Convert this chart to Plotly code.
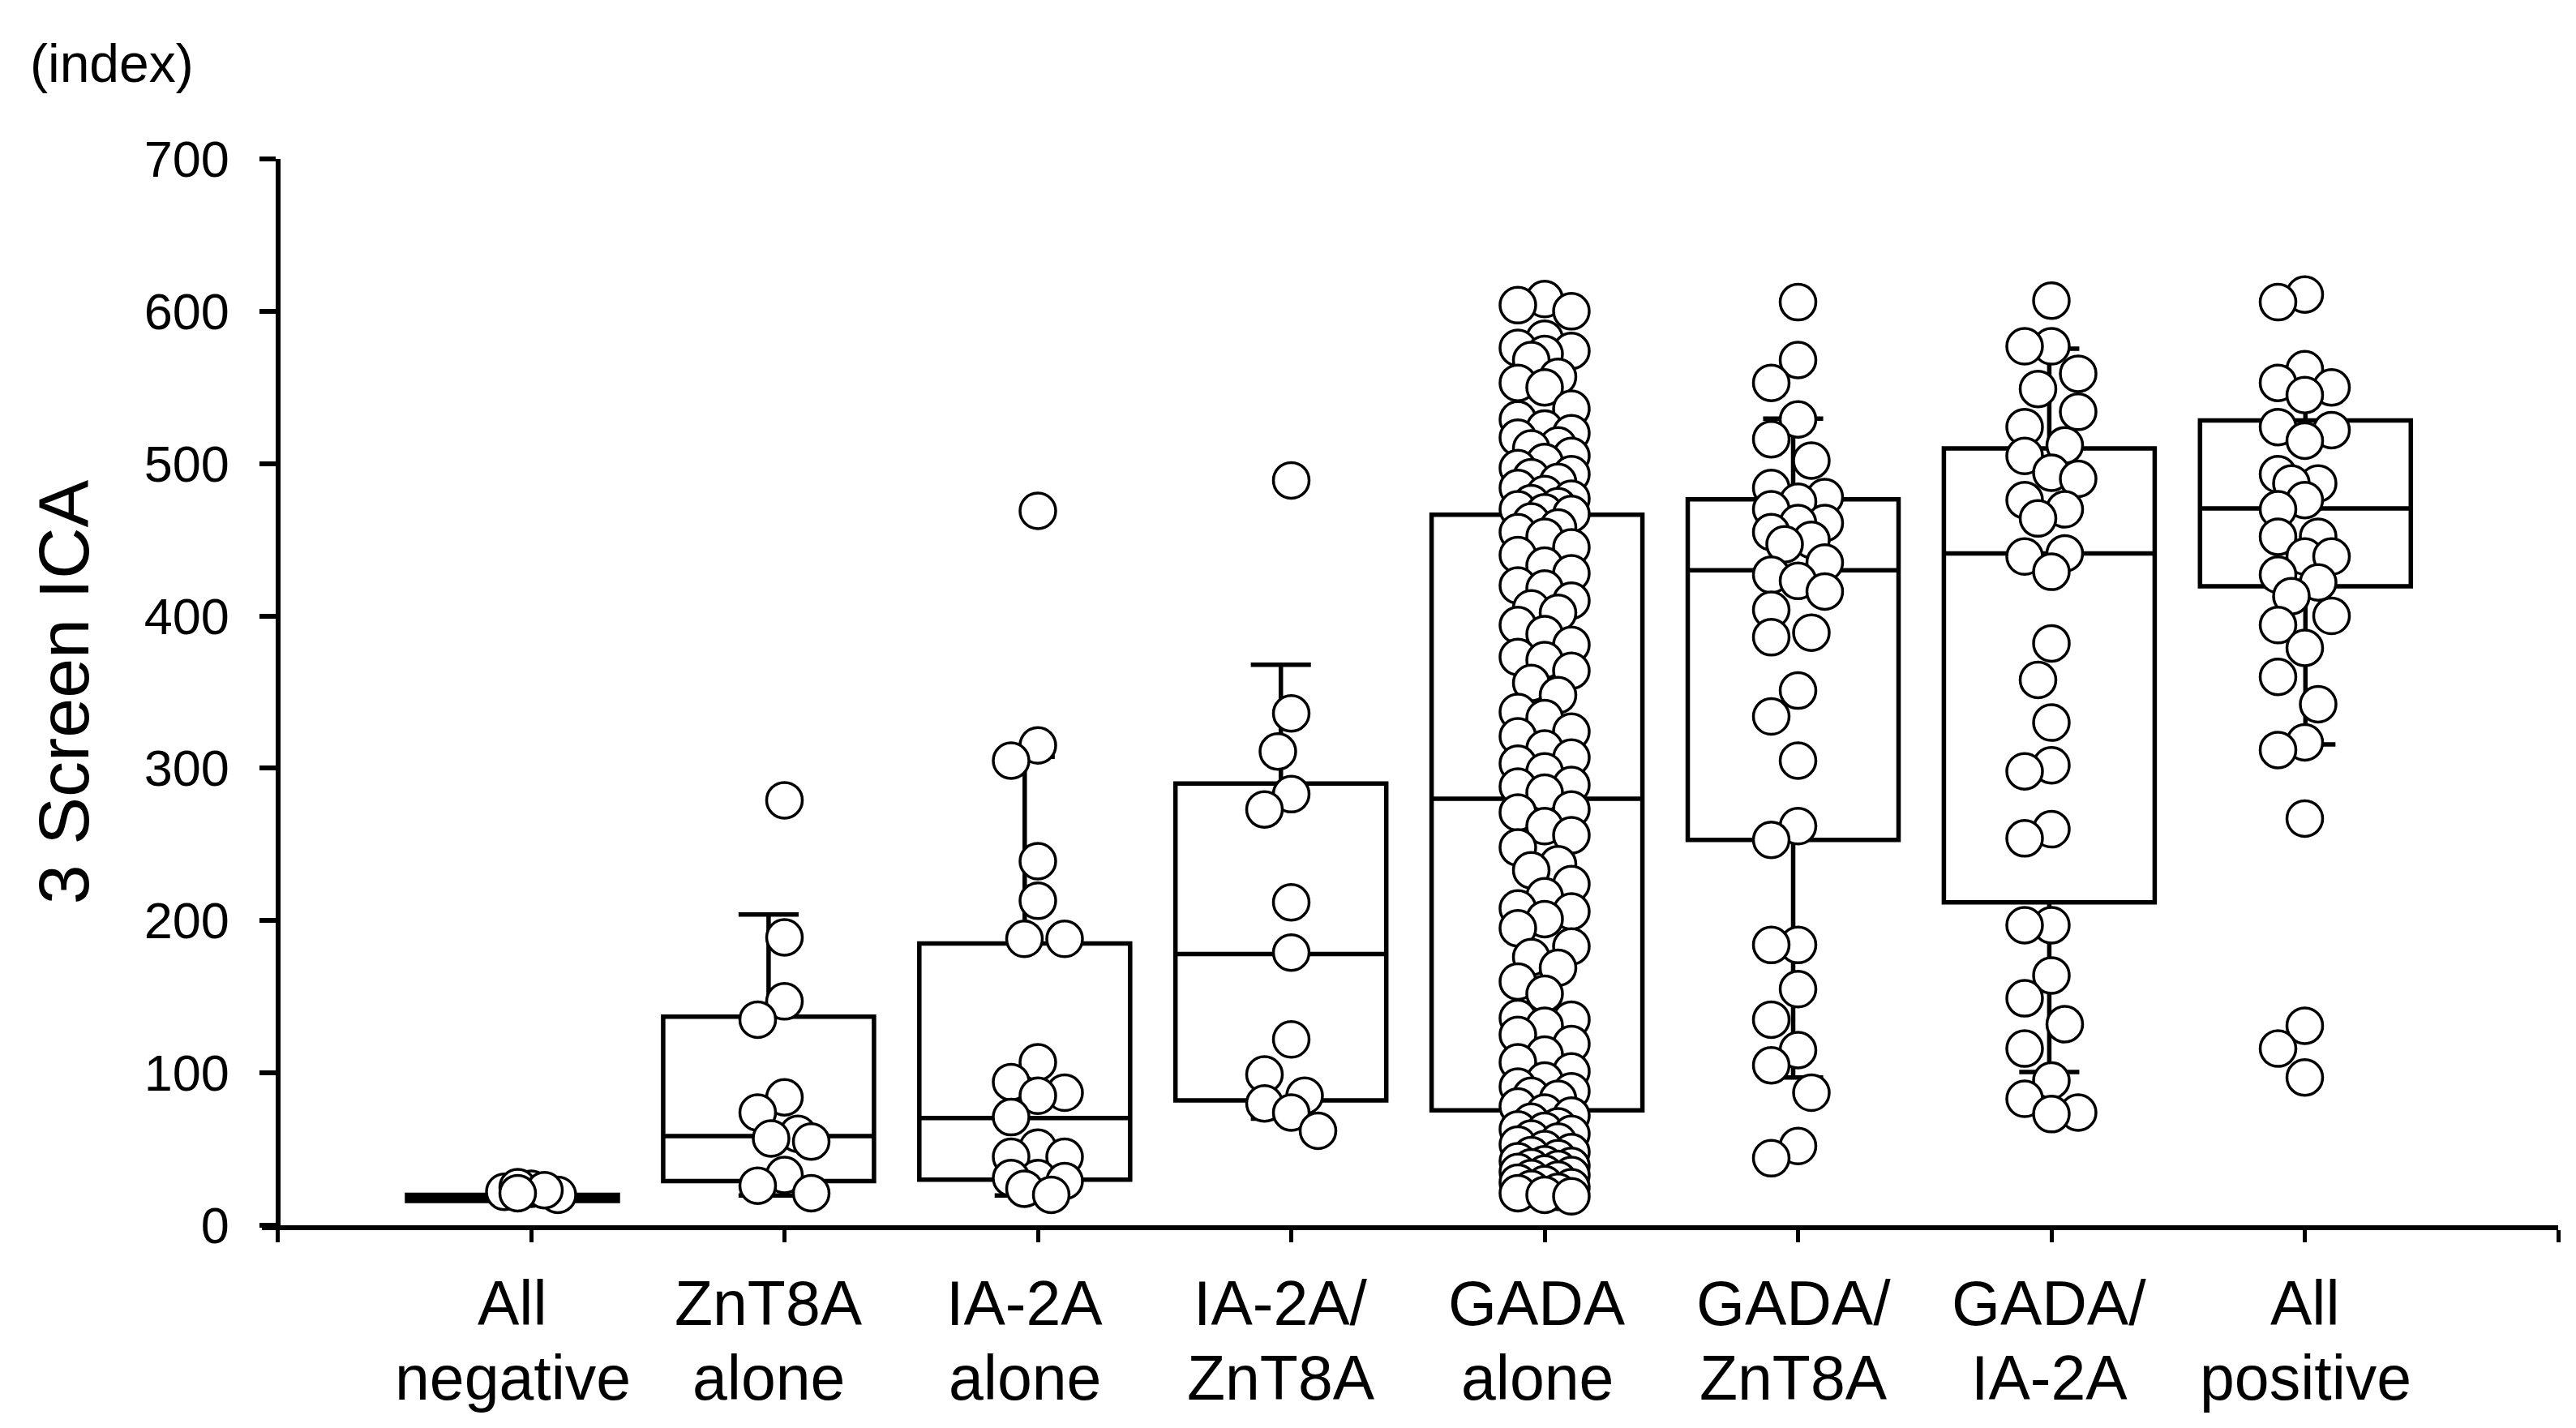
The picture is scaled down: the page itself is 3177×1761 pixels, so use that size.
import math
import plotly.graph_objects as go

# ---------------- data ----------------
label_line1 = ["All", "ZnT8A", "IA-2A", "IA-2A/", "GADA", "GADA/", "GADA/", "All"]
label_line2 = ["negative", "alone", "alone", "ZnT8A", "alone", "ZnT8A", "IA-2A", "positive"]

all_negative = [24, 22, 20, 25, 23, 21]
znt8a_alone = [279, 189, 147, 135, 84, 74, 60, 57, 55, 33, 26, 21]
ia2a_alone = [469, 315, 305, 239, 213, 188, 188, 107, 94, 87, 85, 71, 51, 45, 45,
              31, 31, 29, 24, 20]
ia2a_znt8a = [489, 336, 311, 283, 273, 212, 179, 122, 99, 85, 80, 74, 62]
gada_alone = [608, 604, 600, 582, 576, 574, 572, 568, 557, 553, 550, 536, 529,
              523, 520, 517, 512, 510, 505, 501, 497, 493, 491, 488, 484, 480, 477,
              474, 472, 470, 468, 467,
              462, 458, 455, 452, 445, 440, 433, 428, 420, 418, 410, 405, 402, 394,
              388, 381, 373, 371, 364, 356, 348, 337, 333, 324, 321, 313, 307, 303,
              298, 289, 288, 284,
              273, 271, 262, 256, 248, 237, 233, 224, 216, 208, 206, 201, 195, 183,
              176, 169, 160, 152, 136, 135, 131, 125, 119, 112, 107, 101, 95, 91,
              88, 85, 83, 78,
              74, 72, 68, 65, 63, 62, 60, 57, 55, 53, 50, 48, 46, 44, 42, 40, 39,
              38, 37,
              35, 34, 33, 31, 30, 28, 27, 25, 24, 22, 21, 20, 19]
gada_znt8a = [606, 568, 553, 529, 516, 502, 484, 478, 475, 470, 461, 461, 455, 450,
              447, 435, 427, 423, 416, 404, 389, 386, 351, 334, 305, 262, 253, 184,
              184, 155, 135, 115, 105, 87, 52, 44]
gada_ia2a = [607, 577, 577, 559, 549, 534, 524, 512, 505, 494, 490, 476, 470, 464,
             441, 439, 429, 382, 358, 330, 302, 298, 260, 254, 197, 197, 164, 149,
             132, 116, 95, 83, 74, 73]
all_positive = [611, 606, 562, 553, 550, 545, 524, 522, 515, 493, 487, 487, 476,
                470, 452, 452, 439, 439, 427, 422, 413, 400, 394, 379, 360, 342, 317,
                312, 267, 131, 116, 97]

groups = [all_negative, znt8a_alone, ia2a_alone, ia2a_znt8a,
          gada_alone, gada_znt8a, gada_ia2a, all_positive]

# box statistics (quartiles and whisker ends)
box_q1 = [16, 29, 30, 82, 75.5, 253, 212, 419.5]
box_median = [18, 58.5, 70.4, 178, 280, 430, 441, 470.6]
box_q3 = [20, 137, 185, 290, 466.5, 476.5, 510, 528.3]
box_low = [16, 19.5, 19.5, 70, 36, 97, 100.6, 315.7]
box_high = [20, 204, 307.6, 368, 525, 529.5, 575.5, 558.4]

y_ticks = [0, 100, 200, 300, 400, 500, 600, 700]

# ---------------- layout geometry ----------------
W, H = 3177, 1761
ML, MR, MT, MB = 315, 30, 188, 258
X_RANGE = [-0.0624, 9.0]
Y_RANGE = [0, 700]
plot_w = W - ML - MR
plot_h = H - MT - MB
px_per_x = plot_w / (X_RANGE[1] - X_RANGE[0])
px_per_y = plot_h / (Y_RANGE[1] - Y_RANGE[0])

FONT = "Liberation Sans, Arial, Helvetica, sans-serif"
MARKER_SIZE = 44
MARKER_LINE = 3.5
DIAM = MARKER_SIZE + MARKER_LINE

n = len(groups)
dot_pos = [i + 1 for i in range(n)]                       # dot clouds sit on the ticks
box_pos = [0.9264 + 1.01088 * i for i in range(n)]         # boxes/labels slightly shifted
COL_STEP = 0.0528
COL_ORDER = [0, -1, 1, -2, 2]


def swarm(values):
    """Place points in 5 jitter columns, avoiding overlap where possible."""
    placed = []
    offs = []
    for v in values:
        best, best_d = 0, -1.0
        for c in COL_ORDER:
            dx = c * COL_STEP * px_per_x
            dmin = min((math.hypot(dx - px, (v - pv) * px_per_y) for px, pv in placed),
                       default=1e9)
            if dmin >= DIAM:
                best = c
                break
            if dmin > best_d:
                best_d, best = dmin, c
        placed.append((best * COL_STEP * px_per_x, v))
        offs.append(best * COL_STEP)
    return offs


fig = go.Figure()

# dots first (boxes drawn on top of them)
for i, vals in enumerate(groups):
    offs = swarm(vals)
    fig.add_trace(go.Scatter(
        x=[dot_pos[i] + o for o in offs], y=vals, mode="markers",
        marker=dict(symbol="circle", size=MARKER_SIZE, color="white",
                    line=dict(color="black", width=MARKER_LINE)),
        showlegend=False, hoverinfo="y"))

for i in range(n):
    fig.add_trace(go.Box(
        x=[box_pos[i]], q1=[box_q1[i]], median=[box_median[i]], q3=[box_q3[i]],
        lowerfence=[box_low[i]], upperfence=[box_high[i]],
        width=0.832, whiskerwidth=0.285, boxpoints=False,
        fillcolor="rgba(0,0,0,0)", line=dict(color="black", width=5.5),
        showlegend=False))

annotations = []
for i in range(n):
    annotations.append(dict(x=box_pos[i], y=-0.0730, xref="x", yref="paper",
                            text=label_line1[i], showarrow=False, xanchor="center",
                            yanchor="middle", font=dict(family=FONT, size=77, color="black")))
    annotations.append(dict(x=box_pos[i], y=-0.1430, xref="x", yref="paper",
                            text=label_line2[i], showarrow=False, xanchor="center",
                            yanchor="middle", font=dict(family=FONT, size=77, color="black")))
annotations.append(dict(x=(27 - ML) / plot_w, y=(plot_h + MT - 70) / plot_h, xref="paper",
                        yref="paper", text="(index)", showarrow=False, xanchor="left",
                        yanchor="middle", font=dict(family=FONT, size=66, color="black")))

fig.update_layout(
    width=W, height=H,
    margin=dict(l=ML, r=MR, t=MT, b=MB, autoexpand=False),
    paper_bgcolor="white", plot_bgcolor="white",
    font=dict(family=FONT, color="black"),
    showlegend=False,
    annotations=annotations,
    xaxis=dict(range=X_RANGE, tickmode="array", tickvals=list(range(10)),
               showticklabels=False, ticks="outside", ticklen=15, tickwidth=5,
               tickcolor="black", showline=True, linecolor="black", linewidth=6,
               showgrid=False, zeroline=False, fixedrange=True),
    yaxis=dict(range=Y_RANGE, tickmode="array", tickvals=y_ticks,
               ticktext=[str(t) for t in y_ticks], ticks="outside", ticklen=20,
               tickwidth=6, tickcolor="black", showline=True, linecolor="black",
               linewidth=6, showgrid=False, zeroline=False,
               anchor="free", position=(0 - X_RANGE[0]) * px_per_x / plot_w,
               tickfont=dict(family=FONT, size=63, color="black"),
               ticklabelstandoff=24,
               title=dict(text="3 Screen ICA", font=dict(family=FONT, size=88, color="black"),
                          standoff=38)),
)

fig.write_html("out.html")
